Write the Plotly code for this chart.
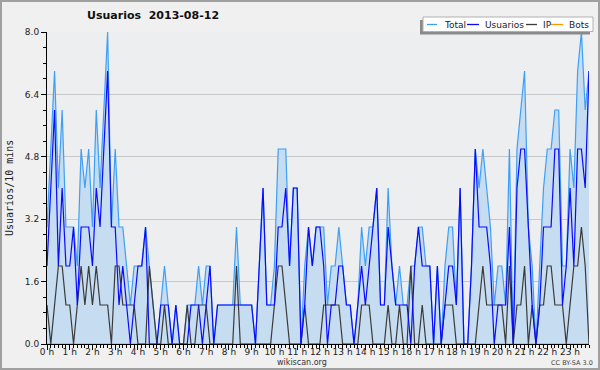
import plotly.graph_objects as go

# ---- data (values per 10-minute slot, 144 slots) ----
total = [3, 5, 7, 4, 6, 3, 3, 3, 2, 5, 4, 5, 3, 6, 4, 6, 8, 3, 5, 3, 3, 2, 1, 2,
         2, 2, 3, 2, 1, 0, 1, 2, 1, 0, 1, 0, 0, 1, 1, 1, 2, 1, 2, 2, 0, 1, 1, 1,
         1, 1, 3, 1, 1, 1, 1, 0, 2, 4, 1, 1, 2, 5, 5, 5, 2, 4, 4, 0, 2, 3, 2, 3,
         3, 3, 1, 2, 2, 3, 2, 1, 1, 0, 1, 3, 2, 3, 3, 4, 1, 1, 4, 2, 1, 2, 1, 1,
         2, 2, 3, 3, 2, 2, 0, 2, 0, 2, 3, 3, 1, 4, 0, 0, 2, 5, 4, 5, 4, 3, 1, 2,
         2, 1, 5, 0, 5, 6, 7, 3, 2, 0, 2, 4, 5, 5, 6, 6, 2, 2, 5, 4, 7, 8, 6, 7]
usuarios = [2, 4, 6, 2, 4, 2, 2, 3, 1, 3, 3, 3, 2, 4, 3, 5, 7, 3, 3, 1, 2, 1, 0, 1,
            2, 2, 3, 0, 0, 0, 1, 1, 1, 0, 1, 0, 0, 0, 1, 1, 1, 0, 1, 2, 0, 1, 1, 1,
            1, 1, 1, 1, 1, 1, 1, 0, 2, 4, 1, 1, 1, 3, 3, 4, 2, 4, 4, 0, 1, 3, 2, 3,
            3, 2, 0, 1, 1, 2, 2, 1, 1, 0, 1, 2, 1, 2, 3, 4, 1, 1, 3, 2, 1, 1, 1, 1,
            0, 2, 3, 2, 2, 2, 0, 2, 0, 1, 2, 2, 1, 4, 0, 0, 2, 5, 3, 3, 3, 2, 0, 1,
            1, 1, 3, 0, 4, 5, 5, 3, 1, 0, 1, 3, 3, 3, 5, 5, 1, 2, 4, 2, 5, 5, 4, 7]
ip = [1, 0, 1, 2, 2, 1, 1, 0, 1, 2, 1, 2, 1, 2, 1, 1, 1, 0, 2, 2, 1, 1, 1, 1,
      0, 0, 0, 2, 1, 0, 0, 1, 0, 0, 0, 0, 0, 1, 0, 0, 1, 1, 1, 0, 0, 0, 0, 0,
      0, 0, 2, 0, 0, 0, 0, 0, 0, 0, 0, 0, 1, 2, 2, 1, 0, 0, 0, 0, 1, 0, 0, 0,
      0, 1, 1, 1, 1, 1, 0, 0, 0, 0, 0, 1, 1, 1, 0, 0, 0, 0, 1, 0, 0, 1, 0, 0,
      2, 0, 0, 1, 0, 0, 0, 0, 0, 1, 1, 1, 0, 0, 0, 0, 0, 0, 1, 2, 1, 1, 1, 1,
      1, 0, 2, 0, 1, 1, 2, 0, 1, 0, 1, 1, 2, 2, 1, 1, 1, 0, 1, 2, 2, 3, 2, 0]
bots = [0, 0, 0, 0, 0, 0, 0, 0, 0, 0, 0, 0, 0, 0, 0, 0, 0, 0, 0, 0, 0, 0, 0, 0,
        0, 0, 0, 0, 0, 0, 0, 0, 0, 0, 0, 0, 0, 0, 0, 0, 0, 0, 0, 0, 0, 0, 0, 0,
        0, 0, 0, 0, 0, 0, 0, 0, 0, 0, 0, 0, 0, 0, 0, 0, 0, 0, 0, 0, 0, 0, 0, 0,
        0, 0, 0, 0, 0, 0, 0, 0, 0, 0, 0, 0, 0, 0, 0, 0, 0, 0, 0, 0, 0, 0, 0, 0,
        0, 0, 0, 0, 0, 0, 0, 0, 0, 0, 0, 0, 0, 0, 0, 0, 0, 0, 0, 0, 0, 0, 0, 0,
        0, 0, 0, 0, 0, 0, 0, 0, 0, 0, 0, 0, 0, 0, 0, 0, 0, 0, 0, 0, 0, 0, 0, 0]
hour_ticks = list(range(24))
hour_labels = [f"{h} h" for h in hour_ticks]
y_ticks = [0, 1.6, 3.2, 4.8, 6.4, 8.0]
y_labels = ["0.0", "1.6", "3.2", "4.8", "6.4", "8.0"]
series_names = ["Total", "Usuarios", "IP", "Bots"]
title_text = "Usuarios\u00a0\u00a02013-08-12"
y_title = "Usuarios/10 mins"

# time of day in hours for each 10-minute slot
x = [i / 6 for i in range(len(total))]

# ---- layout helpers (pixel -> paper) ----
W, H = 600, 370
ML, MR, MT, MB = 47, 11, 32, 26
PW, PH = W - ML - MR, H - MT - MB


def px(v):
    return (v - ML) / PW


def py(v):
    return (H - MB - v) / PH


colors = {"Total": "#3d9ff5", "Usuarios": "#0a0aff", "IP": "#3a3a3a", "Bots": "#ff9900"}
font = "DejaVu Sans"

fig = go.Figure()
fig.add_trace(go.Scatter(x=x, y=total, mode="lines", name="Total", fill="tozeroy",
                         fillcolor="#c6dcf0", line=dict(color=colors["Total"], width=1.2)))
fig.add_trace(go.Scatter(x=x, y=bots, mode="lines", name="Bots",
                         line=dict(color=colors["Bots"], width=1)))
fig.add_trace(go.Scatter(x=x, y=ip, mode="lines", name="IP",
                         line=dict(color=colors["IP"], width=1.2)))
fig.add_trace(go.Scatter(x=x, y=usuarios, mode="lines", name="Usuarios",
                         line=dict(color=colors["Usuarios"], width=1.2)))

shapes = []
annotations = []

# outer frame
shapes.append(dict(type="rect", xref="paper", yref="paper", x0=px(1), x1=px(599),
                   y0=py(369), y1=py(1), line=dict(color="#a0a0a0", width=2),
                   fillcolor="rgba(0,0,0,0)", layer="above"))
# legend shadow + box
shapes.append(dict(type="rect", xref="paper", yref="paper", x0=px(420), x1=px(590),
                   y0=py(34.5), y1=py(20), line=dict(width=0), fillcolor="#8a8a8a",
                   layer="above"))
shapes.append(dict(type="rect", xref="paper", yref="paper", x0=px(423), x1=px(593),
                   y0=py(31.5), y1=py(17), line=dict(color="#b0b0b0", width=1),
                   fillcolor="#ffffff", layer="above"))
legend_items = [("Total", 427, 437, 442), ("Usuarios", 467, 479, 483),
                ("IP", 526, 537, 541), ("Bots", 551, 563, 567)]
ly = 24.5
for name, x0, x1, tx in legend_items:
    shapes.append(dict(type="line", xref="paper", yref="paper", x0=px(x0), x1=px(x1),
                       y0=py(ly), y1=py(ly), line=dict(color=colors[name], width=1.3),
                       layer="above"))
    annotations.append(dict(xref="paper", yref="paper", x=px(tx), y=py(ly), text=name,
                            showarrow=False, xanchor="left", yanchor="middle",
                            font=dict(family=font, size=9, color="#222")))

annotations.append(dict(xref="paper", yref="paper", x=px(85), y=py(16), text=title_text,
                        showarrow=False, xanchor="left", yanchor="middle",
                        font=dict(family=font, size=11, color="#111", weight="bold")))
annotations.append(dict(xref="paper", yref="paper", x=px(9), y=0.5, text=y_title,
                        showarrow=False, textangle=-90, xanchor="center", yanchor="middle",
                        font=dict(family="DejaVu Sans Mono", size=10, color="#222")))
annotations.append(dict(xref="paper", yref="paper", x=px(302), y=py(362), text="wikiscan.org",
                        showarrow=False, xanchor="center", yanchor="middle",
                        font=dict(family=font, size=8, color="#333")))
annotations.append(dict(xref="paper", yref="paper", x=px(572), y=py(362.5), text="CC BY-SA 3.0",
                        showarrow=False, xanchor="center", yanchor="middle",
                        font=dict(family=font, size=6.5, color="#444")))

fig.update_layout(
    width=W, height=H,
    margin=dict(l=ML, r=MR, t=MT, b=MB, pad=0),
    paper_bgcolor="#f0f0f0",
    plot_bgcolor="#eceef0",
    showlegend=False,
    shapes=shapes,
    annotations=annotations,
    xaxis=dict(range=[0, 143 / 6], tickmode="array", tickvals=hour_ticks, ticktext=hour_labels,
               ticks="outside", ticklen=5, tickcolor="#000", tickwidth=1,
               ticklabelstandoff=-6,
               showline=True, linecolor="#000", linewidth=1, showgrid=False, zeroline=False,
               tickfont=dict(family=font, size=9, color="#222"),
               minor=dict(tick0=0, dtick=1 / 6, ticks="outside", ticklen=3,
                          tickcolor="#000", showgrid=False)),
    yaxis=dict(range=[0, 8], tickmode="array", tickvals=y_ticks, ticktext=y_labels,
               ticks="outside", ticklen=5, tickcolor="#000", tickwidth=1,
               showline=True, linecolor="#000", linewidth=1, showgrid=True,
               gridcolor="#c8c8c8", gridwidth=1, zeroline=False,
               tickfont=dict(family=font, size=9, color="#222"),
               minor=dict(tick0=0, dtick=0.4, ticks="outside", ticklen=3,
                          tickcolor="#000", showgrid=False)),
)

fig.write_html("out.html", config={"displayModeBar": False},
               post_script="document.body.style.margin='0';document.body.style.overflow='hidden';")
